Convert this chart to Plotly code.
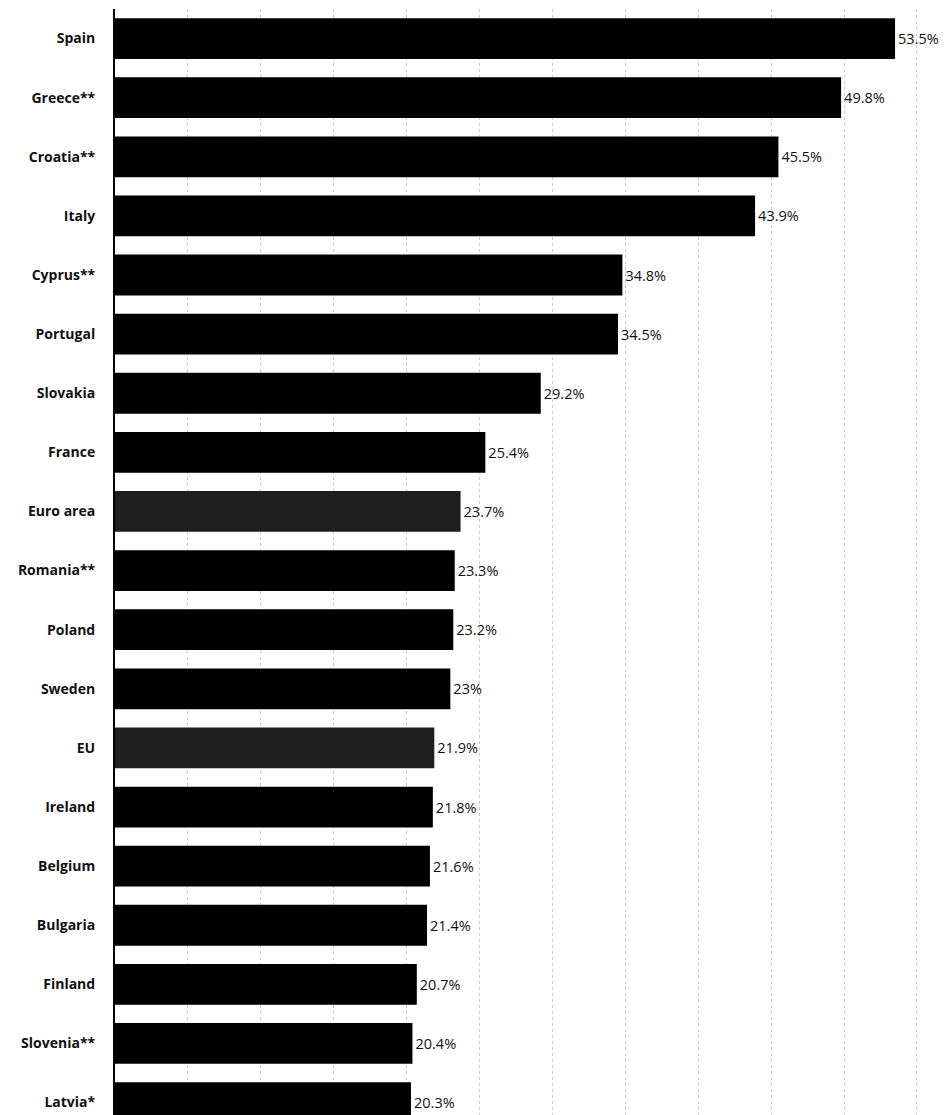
import plotly.graph_objects as go

countries = ["Spain", "Greece**", "Croatia**", "Italy", "Cyprus**", "Portugal", "Slovakia",
             "France", "Euro area", "Romania**", "Poland", "Sweden", "EU", "Ireland",
             "Belgium", "Bulgaria", "Finland", "Slovenia**", "Latvia*"]
values = [53.5, 49.8, 45.5, 43.9, 34.8, 34.5, 29.2, 25.4, 23.7, 23.3, 23.2, 23.0, 21.9,
          21.8, 21.6, 21.4, 20.7, 20.4, 20.3]
value_labels = ["53.5%", "49.8%", "45.5%", "43.9%", "34.8%", "34.5%", "29.2%", "25.4%",
                "23.7%", "23.3%", "23.2%", "23%", "21.9%", "21.8%", "21.6%", "21.4%",
                "20.7%", "20.4%", "20.3%"]
highlight = ["Euro area", "EU"]

colors = ["#1e1e1e" if c in highlight else "#000000" for c in countries]

fig = go.Figure(go.Bar(
    x=values, y=countries, orientation="h",
    marker=dict(color=colors, line=dict(width=0)),
    text=value_labels, textposition="outside", cliponaxis=False,
    textfont=dict(family="Open Sans", size=14.5, color="#111"),
    width=0.69,
))

fig.update_layout(
    width=941, height=1107,
    margin=dict(l=107, r=0, t=1, b=0, autoexpand=False),
    paper_bgcolor="white", plot_bgcolor="white",
    showlegend=False,
    font=dict(family="Open Sans", color="#111"),
    xaxis=dict(range=[0, 57.2], dtick=5, showgrid=True, gridcolor="#cccccc",
               griddash="dot", gridwidth=1, showticklabels=False, zeroline=False,
               showline=False, ticks=""),
    yaxis=dict(range=[18.21, -0.5], showline=True, linecolor="#000", linewidth=2,
               ticks="", ticklabelstandoff=15, showgrid=False, automargin=False,
               tickfont=dict(family="Open Sans", size=14, weight="bold", color="#111")),
)

fig.write_html("out.html")
